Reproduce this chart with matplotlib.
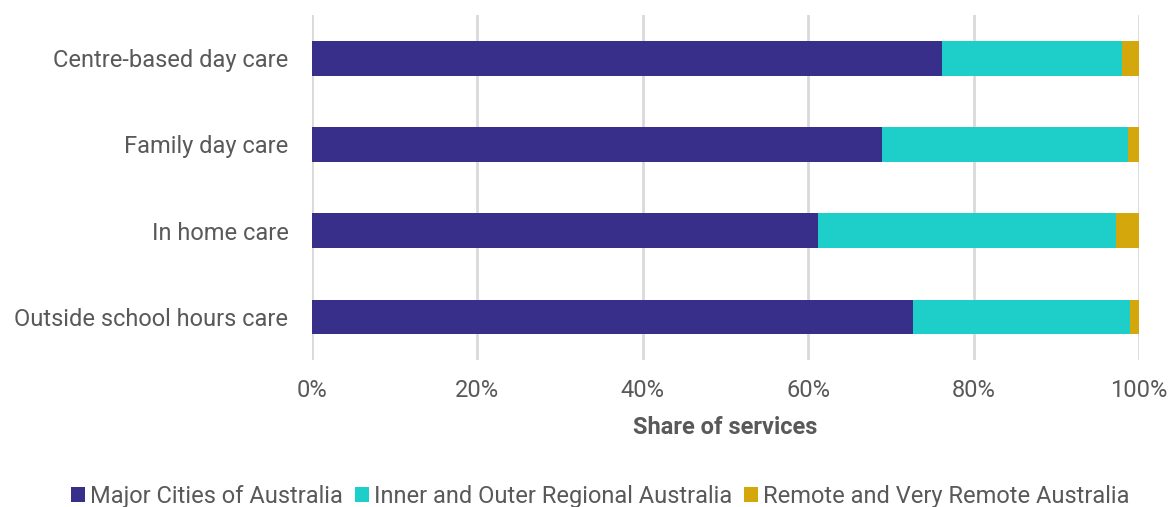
import matplotlib.pyplot as plt
import numpy as np

plt.rcParams['font.family'] = ['Roboto', 'DejaVu Sans']

categories = ['Centre-based day care', 'Family day care', 'In home care',
              'Outside school hours care']
major = [76.2, 68.9, 61.2, 72.7]
regional = [21.7, 29.8, 36.0, 26.2]
remote = [2.1, 1.3, 2.8, 1.1]
series_names = ['Major Cities of Australia', 'Inner and Outer Regional Australia',
                'Remote and Very Remote Australia']
colors = ['#372F8A', '#1ECFC9', '#D4A70D']
xticks = [0, 20, 40, 60, 80, 100]

fig = plt.figure(figsize=(11.7, 5.07), dpi=100)
ax = fig.add_axes([0.2667, 0.29, 0.7068, 0.68])

y = np.arange(len(categories))
left = np.zeros(len(categories))
for vals, name, c in zip([major, regional, remote], series_names, colors):
    ax.barh(y, vals, left=left, height=0.4, color=c, label=name, zorder=3)
    left += np.array(vals)

ax.set_ylim(3.5, -0.5)
ax.set_xlim(0, 100)
ax.set_yticks(y)
ax.set_yticklabels(categories)
ax.set_xticks(xticks)
ax.set_xticklabels([f'{t}%' for t in xticks])
ax.tick_params(axis='both', length=0, labelsize=17, labelcolor='#595959')
ax.tick_params(axis='x', pad=14)
ax.tick_params(axis='y', pad=17)
ax.grid(axis='x', color='#d9d9d9', linewidth=2, zorder=0)
for s in ax.spines.values():
    s.set_visible(False)
ax.set_xlabel('Share of services', fontsize=17, fontweight='bold',
              color='#595959', labelpad=10)

fig.legend(loc='lower center', bbox_to_anchor=(0.513, -0.043), ncol=3, frameon=False,
           fontsize=17, labelcolor='#595959', handlelength=0.6, handleheight=0.6,
           handletextpad=0.2, columnspacing=0.5)

plt.savefig('out.png', dpi=100)
